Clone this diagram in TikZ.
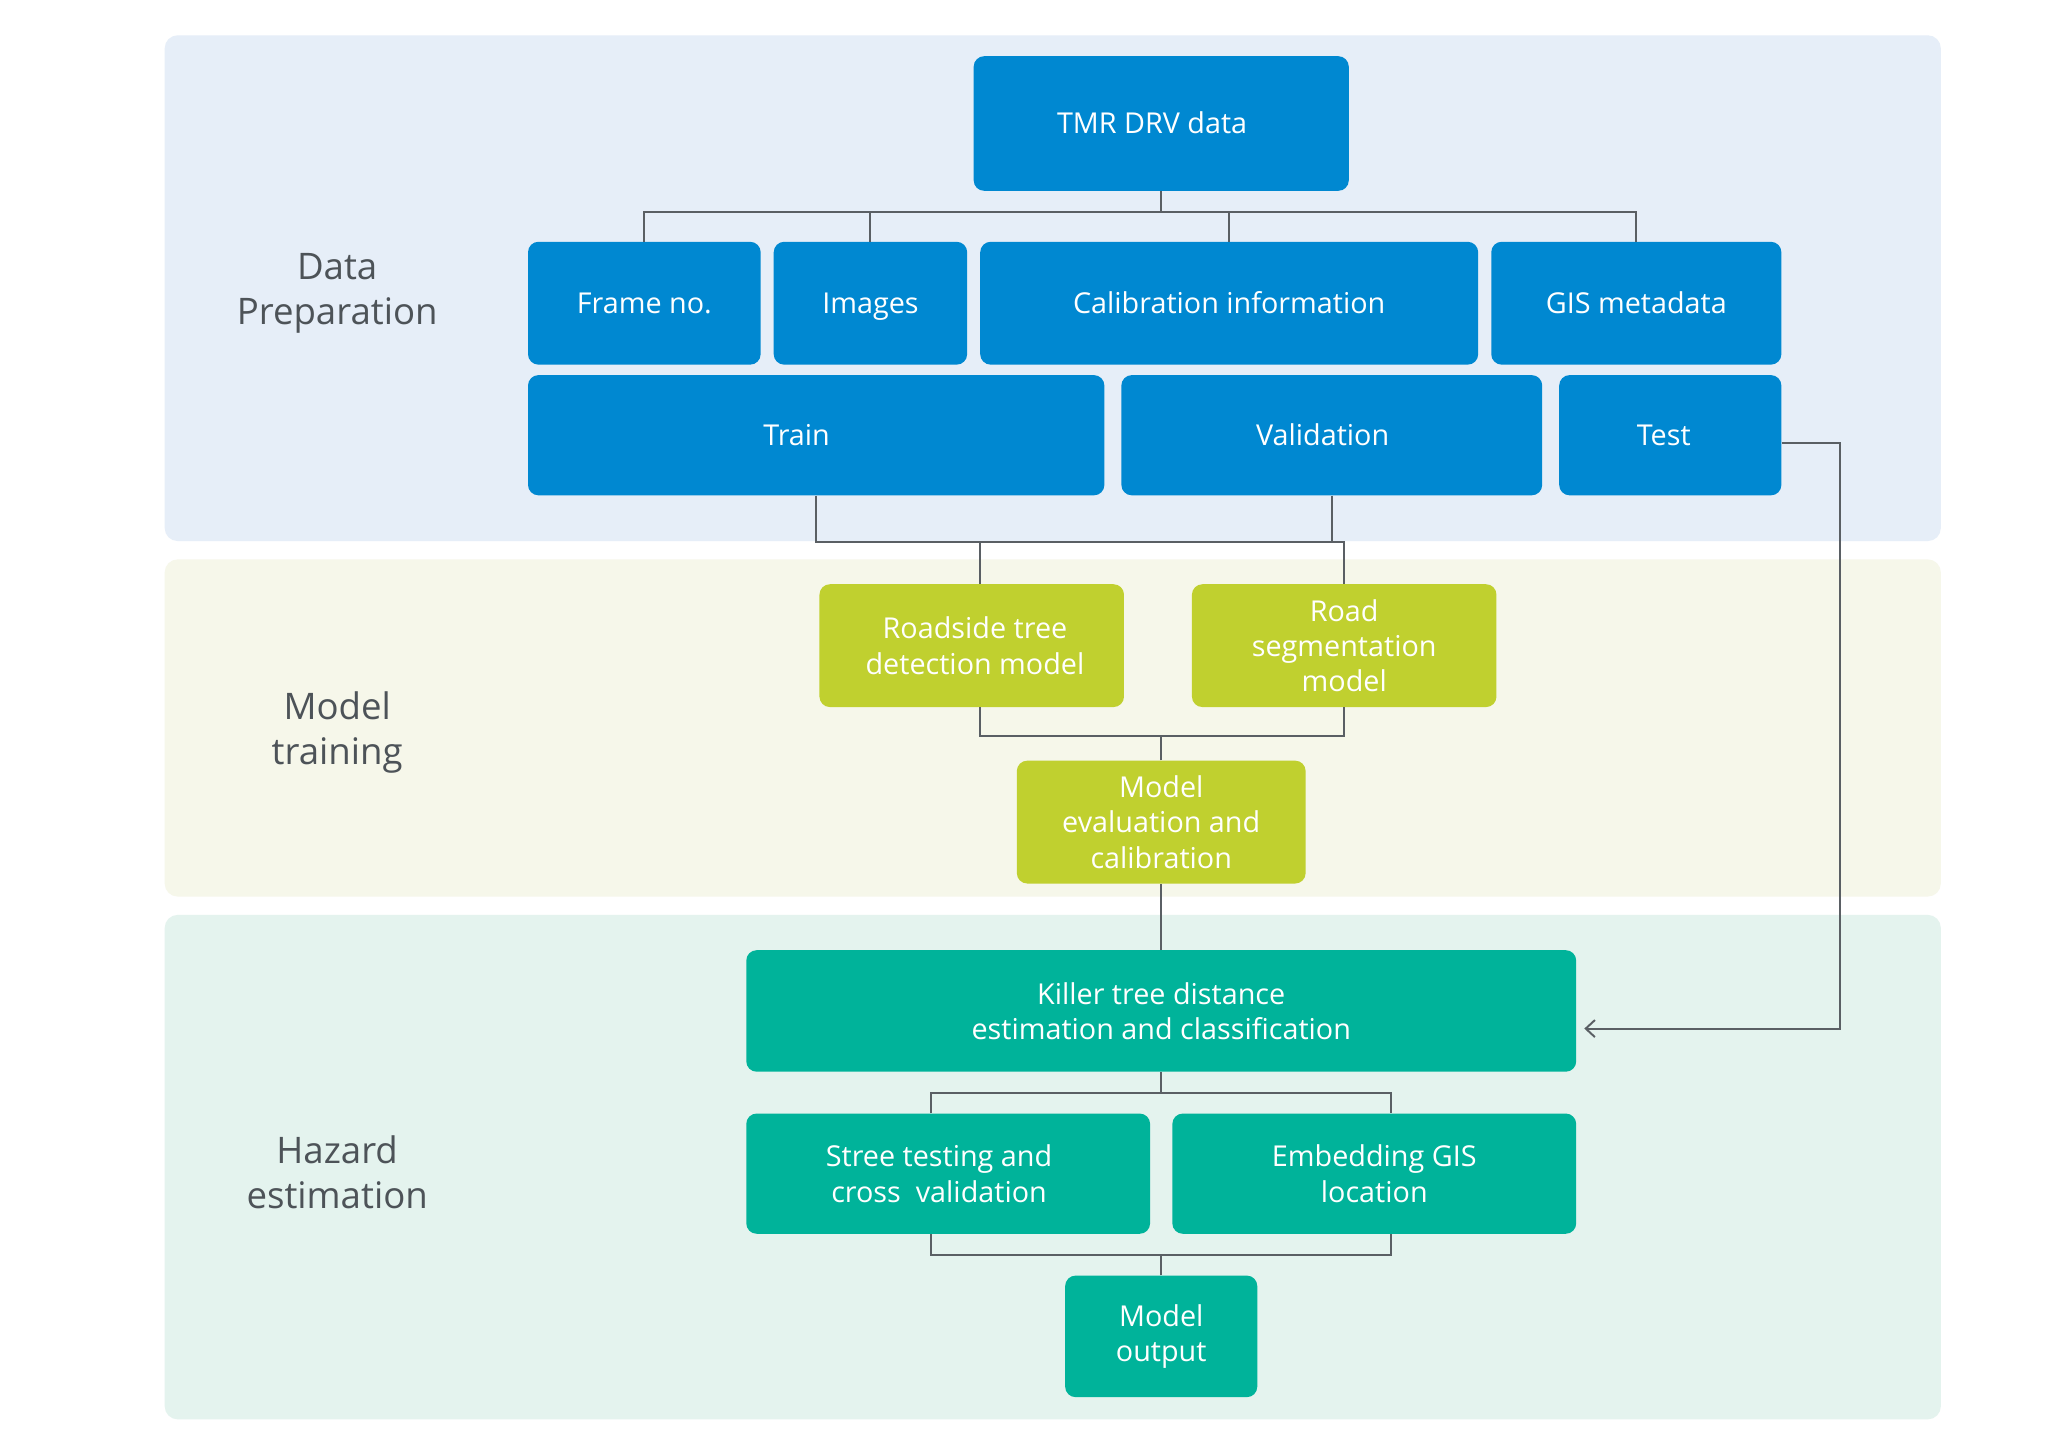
\documentclass[tikz,border=0pt]{standalone}
\usepackage{fontspec}
\setmainfont{Open Sans}
\usetikzlibrary{arrows.meta,calc}
\definecolor{cblue}{HTML}{0088D1}
\definecolor{cgreen}{HTML}{C0D02F}
\definecolor{cteal}{HTML}{00B39A}
\definecolor{pblue}{HTML}{E6EEF8}
\definecolor{pgreen}{HTML}{F6F7EA}
\definecolor{pteal}{HTML}{E4F3EE}
\definecolor{cline}{HTML}{5A5F64}
\definecolor{clabel}{HTML}{4D5358}
\tikzset{
  boxbase/.style={rectangle, rounded corners=8pt, text=white, align=center, inner sep=0pt,
    font=\fontsize{22}{27}\selectfont},
  bbox/.style={boxbase, fill=cblue},
  gbox/.style={boxbase, fill=cgreen},
  tbox/.style={boxbase, fill=cteal},
  oneline/.style={text height=15pt, text depth=0pt},
  panel/.style={rounded corners=10pt},
  lanelabel/.style={text=clabel, align=center, font=\fontsize{28}{34}\selectfont},
  conn/.style={draw=cline, line width=1.5pt},
}
% box macro: name, x1, y1, x2, y2, style, text
\newcommand{\mybox}[7]{%
  \node[#6, minimum width={#4-#2}, minimum height={#5-#3}] (#1) at ({(#2+#4)/2},{(#3+#5)/2}) {#7};}
\begin{document}
\begin{tikzpicture}[x=1pt,y=-1pt]
\useasboundingbox[fill=white] (0,0) rectangle (1567,1109);
% panels
\fill[pblue, panel] (126,27) rectangle (1485,414);
\fill[pgreen, panel] (126,428) rectangle (1485,686);
\fill[pteal, panel] (126,700) rectangle (1485,1086);
% lane labels
\node[lanelabel] (lab1) at (258,224.5) {Data\\Preparation};
\node[lanelabel] (lab2) at (258,560.5) {Model\\training};
\node[lanelabel] (lab3) at (258,897) {Hazard\\estimation};
% boxes
\mybox{tmr}{745}{43}{1032}{146}{bbox,oneline}{TMR DRV data\hspace*{14pt}}
\mybox{frame}{404}{185}{582}{279}{bbox,oneline}{Frame no.}
\mybox{images}{592}{185}{740}{279}{bbox,oneline}{Images}
\mybox{calib}{750}{185}{1131}{279}{bbox,oneline}{Calibration information}
\mybox{gis}{1141}{185}{1363}{279}{bbox,oneline}{GIS metadata}
\mybox{train}{404}{287}{845}{379}{bbox,oneline}{Train\hspace*{30pt}}
\mybox{valid}{858}{287}{1180}{379}{bbox,oneline}{Validation\hspace*{14pt}}
\mybox{test}{1193}{287}{1363}{379}{bbox,oneline}{Test\hspace*{10pt}}
\mybox{rtd}{627}{447}{860}{541}{gbox}{\hspace*{5pt}Roadside tree\\\hspace*{5pt}detection model}
\mybox{rseg}{912}{447}{1145}{541}{gbox}{Road\\segmentation\\model}
\mybox{meval}{778}{582}{999}{676}{gbox}{Model\\evaluation and\\calibration}
\mybox{killer}{571}{727}{1206}{820}{tbox}{Killer tree distance\\estimation and classification}
\mybox{stree}{571}{852}{880}{944}{tbox}{Stree testing and\hspace*{14pt}\\cross\ \ validation\hspace*{14pt}}
\mybox{embed}{897}{852}{1206}{944}{tbox}{Embedding GIS\\location}
\mybox{mout}{815}{976}{962}{1069}{tbox}{Model\\output}
% junction levels
\coordinate (h1) at (0,162);
\coordinate (h2) at (0,415);
\coordinate (h3) at (0,563);
\coordinate (h4) at (0,836);
\coordinate (h5) at (0,960);
\coordinate (vr) at (1408,0);
% connectors: TMR to data items
\draw[conn] (tmr.south) -- (tmr.south |- h1);
\draw[conn] (frame.north) -- (frame.north |- h1) -- (gis.north |- h1) -- (gis.north);
\draw[conn] (images.north) -- (images.north |- h1);
\draw[conn] (calib.north) -- (calib.north |- h1);
% train/validation to models
\draw[conn] (train.south) -- (train.south |- h2) -- (rseg.north |- h2) -- (rseg.north);
\draw[conn] (valid.south) -- (valid.south |- h2);
\draw[conn] ([xshift=6pt]rtd.north) -- ([xshift=6pt]rtd.north |- h2);
% models to evaluation
\draw[conn] ([xshift=6pt]rtd.south) -- ([xshift=6pt]rtd.south |- h3) -- (rseg.south |- h3) -- (rseg.south);
\draw[conn] (meval.north) -- (meval.north |- h3);
% evaluation to killer
\draw[conn] (meval.south) -- (killer.north);
% test to killer
\draw[conn, -{Straight Barb[length=7pt,width=13pt]}, shorten >=6pt]
  ([yshift=-6pt]test.east) -- ([yshift=-6pt]test.east -| vr) |- ([yshift=-13.5pt]killer.east);
% killer to stree/embed
\draw[conn] (killer.south) -- (killer.south |- h4);
\draw[conn] ([xshift=-13.5pt]stree.north) -- ([xshift=-13.5pt]stree.north |- h4) -- ([xshift=12.5pt]embed.north |- h4) -- ([xshift=12.5pt]embed.north);
% stree/embed to output
\draw[conn] ([xshift=-13.5pt]stree.south) -- ([xshift=-13.5pt]stree.south |- h5) -- ([xshift=12.5pt]embed.south |- h5) -- ([xshift=12.5pt]embed.south);
\draw[conn] (mout.north) -- (mout.north |- h5);
\end{tikzpicture}
\end{document}
